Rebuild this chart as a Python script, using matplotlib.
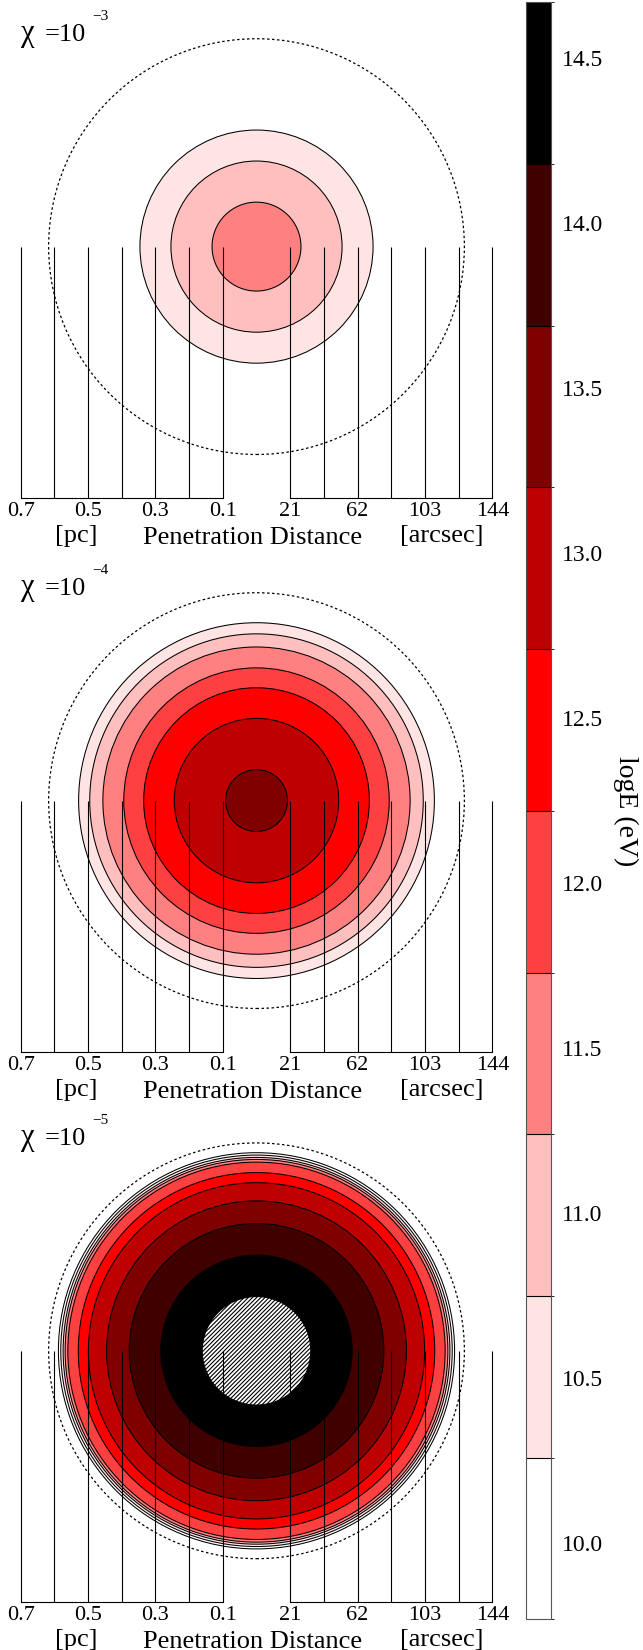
import numpy as np
import matplotlib
matplotlib.use('Agg')
import matplotlib.pyplot as plt
from matplotlib.patches import Circle
from matplotlib.colors import ListedColormap, BoundaryNorm
from matplotlib.cm import ScalarMappable

plt.rcParams['font.family'] = ['Liberation Serif', 'DejaVu Serif']
plt.rcParams['hatch.linewidth'] = 0.8

# colour levels of logE (eV)
level_bounds = [9.77, 10.26, 10.75, 11.24, 11.73, 12.22, 12.71, 13.20, 13.69, 14.18, 14.67]
level_colors = ['#ffffff', '#ffe4e4', '#ffbfbf', '#ff8080', '#ff4040',
                '#ff0000', '#bf0000', '#800000', '#400000', '#000000']
cbar_ticks = [10.0, 10.5, 11.0, 11.5, 12.0, 12.5, 13.0, 13.5, 14.0, 14.5]

# chi values of the three panels
chi_exp = ['\u22123', '\u22124', '\u22125']

# contour radii [pc] and colour index, outermost first
radii_1 = [0.346, 0.254, 0.132]
level_1 = [1, 2, 3]
radii_2 = [0.528, 0.495, 0.456, 0.394, 0.335, 0.244, 0.092]
level_2 = [1, 2, 3, 4, 5, 6, 7]
radii_3 = [0.588, 0.581, 0.574, 0.568, 0.560, 0.529, 0.499, 0.445, 0.378, 0.284]
level_3 = [0, 1, 2, 3, 4, 5, 6, 7, 8, 9]
hatch_r3 = 0.161
dotted_r = 0.617

# distance scale
pc_lines = [0.1, 0.2, 0.3, 0.4, 0.5, 0.6, 0.7]
pc_ticks = [0.7, 0.5, 0.3, 0.1]
pc_labels = ['0.7', '0.5', '0.3', '0.1']
arc_ticks = [0.1, 0.3, 0.5, 0.7]
arc_labels = ['21', '62', '103', '144']
base_y = -0.745

panels = [(radii_1, level_1, None), (radii_2, level_2, None), (radii_3, level_3, hatch_r3)]

W, H = 643, 1650
S = 336.9      # pixels per pc
CX = 256.5
centres = [246.6, 800.6, 1350.8]

fig = plt.figure(figsize=(6.43, 16.5), dpi=100)

for k in range(3):
    cy = centres[k]
    top, bot = cy - 240, cy + 295
    ax = fig.add_axes([0, 1 - bot / H, 520 / W, (bot - top) / H])
    ax.set_xlim(-CX / S, (520 - CX) / S)
    ax.set_ylim(-(bot - cy) / S, (cy - top) / S)
    ax.axis('off')

    radii, lev, hr = panels[k]
    for r, i in zip(radii, lev):
        ax.add_patch(Circle((0, 0), r, facecolor=level_colors[i], edgecolor='black', lw=0.75))
    if hr is not None:
        ax.add_patch(Circle((0, 0), hr, facecolor='white', edgecolor='black', lw=0.75, hatch='////////'))

    ax.add_patch(Circle((0, 0), dotted_r, fill=False, edgecolor='black', lw=0.9, ls=(0, (2, 2))))

    xs = [-p for p in pc_lines] + pc_lines
    ax.vlines(xs, base_y, 0, color='black', lw=0.8)
    ax.plot([-0.7, -0.1], [base_y, base_y], color='black', lw=0.8)
    ax.plot([0.1, 0.7], [base_y, base_y], color='black', lw=0.8)

    for x, t in zip(pc_ticks, pc_labels):
        ax.text(-x, -0.785, t, ha='center', va='center', fontsize=16)
    for x, t in zip(arc_ticks, arc_labels):
        ax.text(x, -0.785, t, ha='center', va='center', fontsize=16)
    ax.text(-0.534, -0.858, '[pc]', ha='center', va='center', fontsize=19)
    ax.text(-0.012, -0.864, 'Penetration Distance', ha='center', va='center', fontsize=19)
    ax.text(0.551, -0.858, '[arcsec]', ha='center', va='center', fontsize=19)

    ax.text(-0.698, 0.61, '\u03c7', ha='left', va='baseline', fontsize=22)
    ax.text(-0.628, 0.61, '=10', ha='left', va='baseline', fontsize=19)
    ax.text(-0.488, 0.673, chi_exp[k], ha='left', va='baseline', fontsize=11)

# colour bar
cmap = ListedColormap(level_colors)
norm = BoundaryNorm(level_bounds, cmap.N)
cax = fig.add_axes([526 / W, 1 - 1619.3 / H, 25 / W, (1619.3 - 2.3) / H])
cb = fig.colorbar(ScalarMappable(norm=norm, cmap=cmap), cax=cax, ticks=cbar_ticks,
                  drawedges=True, spacing='proportional')
cb.ax.set_yticklabels(['%.1f' % t for t in cbar_ticks], fontsize=17)
cb.ax.tick_params(length=0, pad=8)
cb.outline.set_edgecolor('#555555')
cb.outline.set_linewidth(0.8)
cb.dividers.set_color('black')
cb.dividers.set_linewidth(0.8)
cax.text(4.0, 0.5, 'logE (eV)', rotation=270, transform=cax.transAxes,
         ha='center', va='center', fontsize=20)

fig.savefig('out.png', dpi=100)
